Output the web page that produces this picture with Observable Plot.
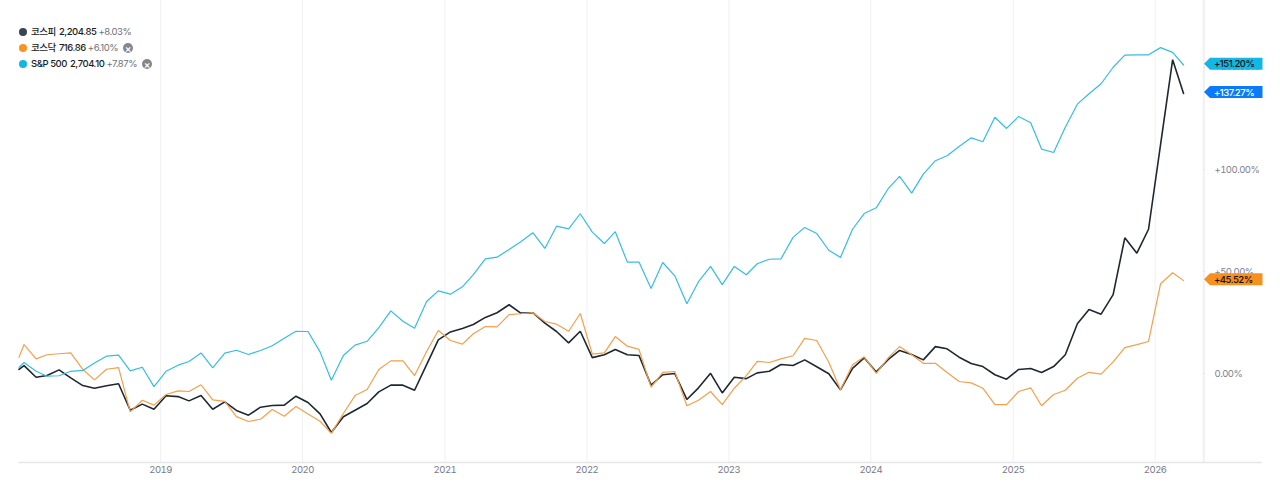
<!DOCTYPE html>
<html lang="ko">
<head>
<meta charset="utf-8">
<script src="https://cdn.jsdelivr.net/npm/d3@7"></script>
<script src="https://cdn.jsdelivr.net/npm/@observablehq/plot@0.6"></script>
<style>
html,body{margin:0;padding:0;background:#fff;overflow:hidden}
#wrap{position:relative;width:1280px;height:484px;font-family:Inter,"Noto Sans CJK KR",sans-serif}
#legend{position:absolute;left:19px;top:24px;font-size:9.5px;line-height:16px;color:#1b1d22;font-weight:500;letter-spacing:-.45px}
.row{display:flex;align-items:center;height:16px;white-space:nowrap}
.dot{width:8px;height:8px;border-radius:50%;margin-right:4px;flex:none}
.val{margin-left:3px}
.chg{margin-left:2px;color:#6f7179;font-weight:400}
.x{width:10px;height:10px;border-radius:50%;background:#85868c;color:#fff;font-size:10px;line-height:10px;text-align:center;margin-left:5px;font-weight:600;letter-spacing:0}
svg{display:block}
svg text{letter-spacing:-.5px}
</style>
</head>
<body>
<div id="wrap"><div id="chart"></div><div id="legend"></div></div>
<script>
const kospi = [2.0,3.9,-1.8,-1.0,1.8,-2.1,-5.9,-7.2,-6.0,-5.0,-18.0,-15.0,-17.5,-10.9,-11.3,-13.4,-10.8,-17.5,-13.9,-18.1,-20.4,-16.5,-15.7,-15.5,-11.1,-14.2,-19.8,-28.9,-21.2,-18.0,-14.7,-9.0,-5.7,-5.7,-8.2,4.4,16.5,20.4,22.1,24.0,27.5,29.8,33.7,29.6,29.8,24.7,20.6,15.0,20.7,7.8,9.2,11.8,9.2,8.8,-5.7,-0.6,0,-12.7,-7.0,0.1,-9.5,-1.8,-2.5,0.3,1.1,4.4,3.9,6.7,3.3,-0.1,-8.0,2.5,7.7,0.8,6.9,11.3,9.3,6.7,13.2,12.1,8.0,4.9,3.4,-0.6,-2.8,2.0,2.5,0.5,3.4,9.2,24.4,31.4,29.1,38.7,66.5,59.0,70.7,112.3,153.8,137.27];
const kosdaq = [8.0,14.2,7.2,9.2,9.7,10.1,2.0,-3.1,2.1,2.9,-18.8,-13.1,-15.5,-10.3,-8.5,-8.8,-5.5,-12.9,-13.6,-21.1,-23.5,-22.4,-17.6,-20.9,-16.2,-19.8,-23.4,-29.3,-19.6,-10.8,-7.8,2.0,6.2,6.2,-1.0,10.8,21.1,16.2,14.4,19.5,23.0,22.9,28.9,29.3,29.8,25.5,24.2,20.7,29.4,9.5,10.1,18.1,13.4,11.8,-6.7,0.6,1.0,-15.8,-13.1,-8.8,-15.2,-7.2,-1.0,6.0,5.4,7.2,8.7,17.2,16.2,5.5,-8.0,4.3,8.2,0.1,7.8,13.2,9.2,5.0,5.0,0.5,-3.9,-4.6,-7.2,-15.2,-15.2,-8.8,-7.0,-15.8,-10.3,-8.2,-2.3,0.6,-0.3,5.7,12.7,14.2,15.7,44.0,49.4,45.52];
const sp500 = [3.1,5.4,1.1,-1.3,-1.1,1.1,1.5,5.2,8.5,9.0,1.3,3.1,-6.4,1.1,4.1,5.9,10.1,2.8,10.0,11.4,9.3,11.3,13.6,17.3,20.7,20.6,10.6,-3.3,8.8,13.9,15.8,22.5,30.7,25.6,22.2,35.3,40.5,38.9,42.5,48.5,56.2,57.0,60.8,64.6,69.0,61.3,72.2,70.9,78.3,69.3,63.7,69.5,54.6,54.6,41.7,54.4,47.9,34.2,45.0,52.5,43.6,52.5,48.4,53.8,56.0,56.2,66.7,71.6,68.6,60.4,56.9,70.7,78.4,81.2,90.7,96.6,88.4,97.7,104.3,106.7,111.3,115.5,113.6,125.6,120.1,126.0,122.9,110.0,108.3,120.7,132.0,137.1,142.0,150.1,156.0,156.2,156.2,159.7,157.4,151.2];
const firstDay = new Date("2018-01-02");
const months = d3.utcMonths(new Date("2018-01-01"), new Date("2026-04-01")).map(d => d3.utcDay.offset(d, 14));
const dates = [firstDay, ...months];
const yearTicks = [2019,2020,2021,2022,2023,2024,2025,2026].map(y => new Date(Date.UTC(y,0,1)));
const yTicks = [0,50,100,150];
const seriesNames = ["코스피","코스닥","S&P 500"];
const seriesColors = ["#1f2731","#f2a04c","#35bde3"];
const seriesWidths = [1.6,1.2,1.2];
const legendColors = ["#3a4553","#f7931e","#0fb6e6"];
const legendValues = ["2,204.85","716.86","2,704.10"];
const legendChanges = ["+8.03%","+6.10%","+7.87%"];
const legendClose = [false,true,true];
const tagValues = [151.20,137.27,45.52];
const tagLabels = ["+151.20%","+137.27%","+45.52%"];
const tagFills = ["#12b7e6","#0b7bfb","#f98f1c"];
const tagText = ["#111","#fff","#111"];
const rightEdge = new Date("2026-05-06");
const xDomain = [new Date("2018-01-02"), new Date("2026-10-04")];
const yDomain = [-43.6, 182.8];

const rows = [kospi, kosdaq, sp500].flatMap((vals, s) =>
  vals.map((v, i) => ({date: dates[i], value: v, series: seriesNames[s], k: s})));
const tags = tagValues.map((v, i) => ({v, label: tagLabels[i], fill: tagFills[i], text: tagText[i]}));

const chart = Plot.plot({
  width: 1280, height: 484,
  marginLeft: 18.5, marginRight: 18, marginTop: 0, marginBottom: 22,
  style: {fontFamily: 'Inter,"Noto Sans CJK KR",sans-serif', background: "#fff", overflow: "visible"},
  x: {type: "utc", domain: xDomain},
  y: {domain: yDomain},
  marks: [
    Plot.ruleX(yearTicks, {stroke: "#f1f1f3", strokeWidth: 1}),
    Plot.ruleX([rightEdge], {stroke: "#f0f0f2", strokeWidth: 2}),
    Plot.ruleY([yDomain[0]], {stroke: "#e6e6ea", strokeWidth: 1.5}),
    Plot.ruleY(yTicks, {x1: rightEdge, x2: new Date("2026-05-12"), stroke: "#e8e8eb"}),
    Plot.axisX({ticks: yearTicks, tickFormat: d3.utcFormat("%Y"), tickSize: 0, tickPadding: 4, fontSize: 9.5, color: "#777986", label: null}),
    Plot.axisY({anchor: "right", ticks: yTicks, tickFormat: d => d === 0 ? "0.00%" : `+${d.toFixed(2)}%`, tickSize: 0, tickPadding: -48, fontSize: 9.5, color: "#7f818e", label: null}),
    ...[0,1,2].map(k => Plot.line(rows.filter(r => r.k === k), {x: "date", y: "value", stroke: seriesColors[k], strokeWidth: seriesWidths[k], strokeLinejoin: "miter"})),
    (index, {y}) => {
      const g = d3.create("svg:g");
      for (const t of tags) {
        const c = y(t.v) - 0.8;
        g.append("path").attr("fill", t.fill)
          .attr("d", `M1204,${c}L1210,${c-6}H1262.5V${c+6}H1210Z`);
      }
      return g.node();
    },
    Plot.text(tags, {y: d => d.v, text: "label", fill: "text", frameAnchor: "right", textAnchor: "start", dx: -48.5, dy: -0.8, fontSize: 9.5, fontWeight: 500})
  ]
});
document.getElementById("chart").append(chart);

const legend = d3.select("#legend");
seriesNames.forEach((name, i) => {
  const r = legend.append("div").attr("class", "row");
  r.append("span").attr("class", "dot").style("background", legendColors[i]);
  r.append("span").text(name);
  r.append("span").attr("class", "val").text(legendValues[i]);
  r.append("span").attr("class", "chg").text(legendChanges[i]);
  if (legendClose[i]) r.append("span").attr("class", "x").text("×");
});
</script>
</body>
</html>
